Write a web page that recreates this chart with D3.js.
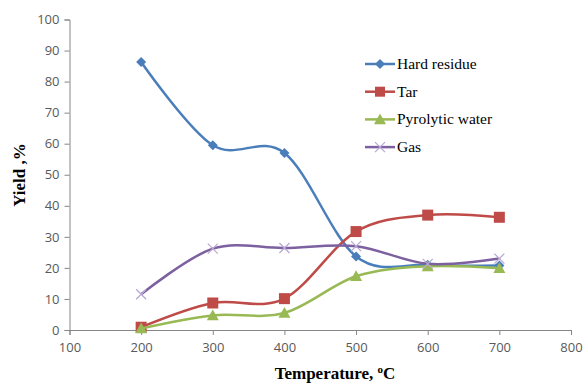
<!DOCTYPE html>
<html><head><meta charset="utf-8">
<script src="https://cdn.jsdelivr.net/npm/d3@7"></script>
<style>body{margin:0;background:#fff}</style>
</head><body>
<svg id="c" width="585" height="383"></svg>
<script>
const temps = [200, 300, 400, 500, 600, 700];
const hardResidue = [86.3, 59.5, 57.0, 23.7, 21.0, 20.8];
const tar = [0.9, 8.7, 10.1, 31.7, 37.0, 36.3];
const pyrolyticWater = [0.5, 4.7, 5.5, 17.3, 20.5, 19.9];
const gas = [11.5, 26.2, 26.4, 27.0, 21.3, 23.0];
const xTicks = [100, 200, 300, 400, 500, 600, 700, 800];
const yTicks = [0, 10, 20, 30, 40, 50, 60, 70, 80, 90, 100];
const seriesNames = ["Hard residue", "Tar", "Pyrolytic water", "Gas"];
const seriesColors = ["#4a7ebb", "#be4b48", "#98b954", "#7d60a0"];
const seriesSymbols = ["diamond", "square", "triangle", "cross"];
const seriesValues = [hardResidue, tar, pyrolyticWater, gas];

const svg = d3.select("#c");
const x = d3.scaleLinear().domain([100, 800]).range([69.5, 571]);
const y = d3.scaleLinear().domain([0, 100]).range([330, 19.5]);

const axisColor = "#868686";
const xa = svg.append("g").attr("transform", `translate(0,${y(0)})`)
  .call(d3.axisBottom(x).tickValues(xTicks).tickSize(5).tickPadding(8));
const ya = svg.append("g").attr("transform", `translate(${x(100)},0)`)
  .call(d3.axisLeft(y).tickValues(yTicks).tickSize(5).tickPadding(5));
[xa, ya].forEach(a => {
  a.select(".domain").attr("stroke", axisColor);
  a.selectAll(".tick line").attr("stroke", axisColor);
  a.selectAll("text").attr("fill", "#595959").style("font-family", "'Open Sans', 'Liberation Sans', sans-serif").style("font-size", "13px");
});

const line = d3.line().x((d, i) => x(temps[i])).y(d => y(d)).curve(d3.curveCardinal.tension(0));

function marker(g, type, color, cx, cy, legend) {
  if (type === "diamond") {
    const s = 5;
    g.append("path").attr("d", `M${cx},${cy - s}L${cx + s},${cy}L${cx},${cy + s}L${cx - s},${cy}Z`).attr("fill", color);
  } else if (type === "square") {
    const s = legend ? 5 : 5.5;
    g.append("rect").attr("x", cx - s).attr("y", cy - s).attr("width", 2 * s).attr("height", 2 * s).attr("fill", color);
  } else if (type === "triangle") {
    const s = 6;
    g.append("path").attr("d", `M${cx},${cy - s}L${cx + s},${cy + s * 0.8}L${cx - s},${cy + s * 0.8}Z`).attr("fill", color);
  } else {
    const s = 5;
    g.append("path").attr("d", `M${cx - s},${cy - s}L${cx + s},${cy + s}M${cx - s},${cy + s}L${cx + s},${cy - s}`).attr("stroke", "#b9a9d4").attr("stroke-width", 1.3).attr("fill", "none");
  }
}

seriesValues.forEach((vals, k) => {
  const g = svg.append("g");
  g.append("path").datum(vals).attr("d", line).attr("fill", "none")
    .attr("stroke", seriesColors[k]).attr("stroke-width", 2.5);
  vals.forEach((v, i) => marker(g, seriesSymbols[k], seriesColors[k], x(temps[i]), y(v), false));
});

// legend
const lg = svg.append("g");
seriesNames.forEach((n, k) => {
  const yy = 64 + k * 27.7;
  lg.append("line").attr("x1", 365).attr("x2", 395).attr("y1", yy).attr("y2", yy)
    .attr("stroke", seriesColors[k]).attr("stroke-width", 2.5);
  marker(lg, seriesSymbols[k], seriesColors[k], 380, yy, true);
  lg.append("text").attr("x", 397).attr("y", yy + 5).text(n)
    .style("font-family", "'Liberation Serif', 'Times New Roman', serif").style("font-size", "15.5px").attr("fill", "#000");
});

// axis titles
svg.append("text").attr("transform", "translate(25,175) rotate(-90)").attr("text-anchor", "middle")
  .style("font-family", "'Liberation Serif', serif").style("font-weight", "bold").style("font-size", "17px")
  .text("Yield ,%");
const xt = svg.append("text").attr("x", 335).attr("y", 379).attr("text-anchor", "middle")
  .style("font-family", "'Liberation Serif', serif").style("font-weight", "bold").style("font-size", "17px");
xt.append("tspan").text("Temperature, ");
xt.append("tspan").text("o").attr("dy", -6).style("font-size", "11px");
xt.append("tspan").text("C").attr("dy", 6);
</script>
</body></html>
